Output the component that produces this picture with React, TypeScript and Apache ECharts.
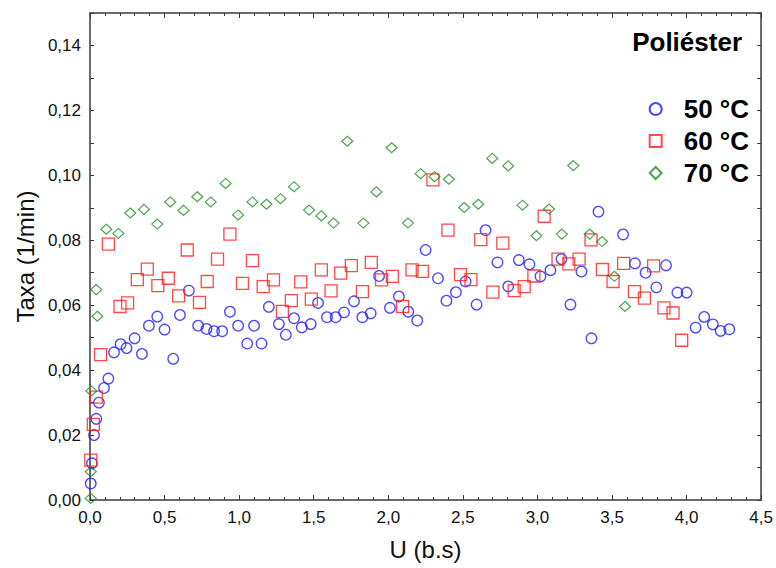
import React, { useEffect, useRef } from "react";
import * as echarts from "echarts";

// Drying rate of polyester vs. U (b.s) at three air temperatures
const u50 = [
  0.005, 0.013, 0.027, 0.042, 0.06, 0.094, 0.123, 0.161, 0.205, 0.245, 0.299, 0.348, 0.395, 0.451, 0.5,
  0.558, 0.603, 0.663, 0.725, 0.781, 0.832, 0.886, 0.938, 0.993, 1.054, 1.1, 1.15, 1.199, 1.266, 1.313,
  1.368, 1.42, 1.48, 1.529, 1.589, 1.647, 1.703, 1.77, 1.826, 1.882, 1.938, 2.011, 2.071, 2.134, 2.194,
  2.25, 2.333, 2.39, 2.453, 2.518, 2.592, 2.652, 2.732, 2.804, 2.875, 2.946, 3.02, 3.087, 3.161, 3.221,
  3.295, 3.362, 3.409, 3.574, 3.654, 3.725, 3.797, 3.862, 3.938, 4.0, 4.06, 4.118, 4.176, 4.228, 4.286,
];
const taxa50 = [
  0.0051, 0.0113, 0.02, 0.025, 0.03, 0.0345, 0.0374, 0.0455, 0.048, 0.0468, 0.0498, 0.045, 0.0537, 0.0565,
  0.0525, 0.0435, 0.057, 0.0645, 0.0537, 0.0527, 0.052, 0.052, 0.058, 0.0537, 0.0482, 0.0537, 0.0482,
  0.0595, 0.0542, 0.0509, 0.056, 0.0532, 0.0542, 0.0607, 0.0563, 0.0563, 0.0578, 0.0612, 0.0563, 0.0575,
  0.069, 0.0592, 0.0627, 0.058, 0.0553, 0.077, 0.0683, 0.0614, 0.064, 0.0673, 0.0602, 0.0831, 0.0732,
  0.0658, 0.0739, 0.0726, 0.0689, 0.0708, 0.0742, 0.0602, 0.0704, 0.0498, 0.0888, 0.0818, 0.0729, 0.07,
  0.0655, 0.0723, 0.0639, 0.0639, 0.0531, 0.0564, 0.0541, 0.0521, 0.0526,
];

const u60 = [
  0.005, 0.022, 0.042, 0.071, 0.123, 0.201, 0.252, 0.317, 0.384, 0.455, 0.525, 0.594, 0.652, 0.734, 0.786,
  0.855, 0.938, 1.022, 1.089, 1.161, 1.23, 1.29, 1.35, 1.413, 1.484, 1.551, 1.616, 1.681, 1.752, 1.826,
  1.886, 1.955, 2.027, 2.096, 2.159, 2.228, 2.299, 2.4, 2.484, 2.554, 2.62, 2.701, 2.768, 2.844, 2.911,
  2.976, 3.045, 3.138, 3.21, 3.279, 3.359, 3.435, 3.507, 3.578, 3.65, 3.717, 3.779, 3.848, 3.909, 3.967,
];
const taxa60 = [
  0.0123, 0.0233, 0.0317, 0.0448, 0.0788, 0.0596, 0.0607, 0.0679, 0.0711, 0.066, 0.0683, 0.0629, 0.077,
  0.0609, 0.0673, 0.0742, 0.0819, 0.0667, 0.0737, 0.0657, 0.0678, 0.0581, 0.0614, 0.0672, 0.0619, 0.0709,
  0.0644, 0.0699, 0.0722, 0.0642, 0.0732, 0.0678, 0.0689, 0.0596, 0.0709, 0.0704, 0.0986, 0.0831, 0.0694,
  0.0679, 0.0802, 0.064, 0.0791, 0.0645, 0.0657, 0.069, 0.0874, 0.0742, 0.0727, 0.0742, 0.0801, 0.071,
  0.0673, 0.0729, 0.0642, 0.0622, 0.0721, 0.0592, 0.0576, 0.0492,
];

const u70 = [
  0.005, 0.005, 0.009, 0.042, 0.049, 0.109, 0.19, 0.27, 0.362, 0.451, 0.538, 0.627, 0.719, 0.809, 0.909,
  0.993, 1.089, 1.183, 1.277, 1.368, 1.469, 1.551, 1.633, 1.725, 1.833, 1.92, 2.022, 2.132, 2.217, 2.31,
  2.406, 2.509, 2.603, 2.697, 2.804, 2.9, 2.993, 3.078, 3.163, 3.24, 3.35, 3.433, 3.516, 3.587,
];
const taxa70 = [
  0.0005, 0.0087, 0.0336, 0.0648, 0.0566, 0.0834, 0.0821, 0.0884, 0.0895, 0.085, 0.0918, 0.0892, 0.0934,
  0.0918, 0.0975, 0.0878, 0.0918, 0.0911, 0.0928, 0.0965, 0.0893, 0.0875, 0.0853, 0.1105, 0.0853, 0.0949,
  0.1085, 0.0853, 0.1005, 0.0996, 0.0988, 0.0901, 0.0911, 0.1052, 0.1029, 0.0908, 0.0814, 0.0896, 0.0819,
  0.103, 0.0819, 0.0796, 0.0689, 0.0596,
];

const seriesNames = ["50 °C", "60 °C", "70 °C"];
const panelTitle = "Poliéster";
const xTitle = "U (b.s)";
const yTitle = "Taxa (1/min)";

const AXIS = "#3a3a3a";
const NARROW = "'Liberation Sans Narrow', 'Liberation Sans', Arial, sans-serif";
const SANS = "'Liberation Sans', Arial, sans-serif";

const pairs = (xs: number[], ys: number[]) => xs.map((x, i) => [x, ys[i]]);
const comma = (v: number, d: number) => v.toFixed(d).replace(".", ",");

function frameAxis(extra: any) {
  return {
    type: "value",
    axisLine: { show: true, onZero: false, lineStyle: { color: AXIS, width: 1.5 } },
    axisTick: { show: true, inside: true, length: 5, lineStyle: { color: AXIS, width: 1 } },
    splitLine: { show: false },
    ...extra,
  };
}

export default function App() {
  const ref = useRef<HTMLDivElement>(null);

  useEffect(() => {
    const chart = echarts.init(ref.current!, null, { renderer: "svg" });
    const xCommon = { min: 0, max: 4.5, interval: 0.5 };
    const yCommon = { min: 0, max: 0.15, interval: 0.01 };
    const minorX = { show: true, splitNumber: 5, length: 3, lineStyle: { color: AXIS, width: 1 } };

    chart.setOption({
      animation: false,
      backgroundColor: "#ffffff",
      title: {
        text: panelTitle,
        right: 34,
        top: 29,
        padding: 0,
        textStyle: { fontFamily: SANS, fontSize: 26, fontWeight: "bold", color: "#000" },
      },
      legend: {
        orient: "vertical",
        right: 27,
        top: 96,
        padding: 0,
        itemWidth: 12,
        itemHeight: 12,
        itemGap: 6,
        data: seriesNames,
        textStyle: {
          fontFamily: SANS,
          fontSize: 26,
          fontWeight: "bold",
          color: "#000",
          lineHeight: 26,
          padding: [0, 0, 0, 17],
        },
      },
      grid: { left: 90, right: 13, top: 13, bottom: 68 },
      xAxis: [
        frameAxis({
          ...xCommon,
          position: "bottom",
          minorTick: minorX,
          axisLabel: {
            margin: 9,
            fontFamily: NARROW,
            fontSize: 17,
            color: "#111",
            formatter: (v: number) => comma(v, 1),
          },
          name: xTitle,
          nameLocation: "middle",
          nameGap: 37,
          nameTextStyle: { fontFamily: SANS, fontSize: 24, color: "#111" },
        }),
        frameAxis({
          ...xCommon,
          position: "top",
          minorTick: minorX,
          axisLabel: { show: false },
        }),
      ],
      yAxis: [
        frameAxis({
          ...yCommon,
          position: "left",
          axisTick: { show: true, inside: true, length: 4, lineStyle: { color: AXIS, width: 1 } },
          axisLabel: {
            margin: 9,
            fontFamily: NARROW,
            fontSize: 17,
            color: "#111",
            formatter: (v: number) => {
              const k = Math.round(v * 100);
              return k % 2 === 0 && k <= 14 ? comma(v, 2) : "";
            },
          },
          name: yTitle,
          nameLocation: "middle",
          nameGap: 51,
          nameTextStyle: { fontFamily: SANS, fontSize: 24, color: "#111" },
        }),
        frameAxis({
          ...yCommon,
          position: "right",
          axisTick: { show: true, inside: true, length: 4, lineStyle: { color: AXIS, width: 1 } },
          axisLabel: { show: false },
        }),
      ],
      series: [
        {
          name: seriesNames[0],
          type: "scatter",
          symbol: "circle",
          symbolSize: 10.5,
          data: pairs(u50, taxa50),
          itemStyle: { color: "rgba(255,255,255,0)", borderColor: "#1a1aff", borderWidth: 1.3 },
        },
        {
          name: seriesNames[1],
          type: "scatter",
          symbol: "rect",
          symbolSize: 12,
          data: pairs(u60, taxa60),
          itemStyle: { color: "rgba(255,255,255,0)", borderColor: "#ff1a1a", borderWidth: 1.3 },
        },
        {
          name: seriesNames[2],
          type: "scatter",
          symbol: "diamond",
          symbolSize: [11, 10],
          data: pairs(u70, taxa70),
          itemStyle: { color: "rgba(255,255,255,0)", borderColor: "#1f8f1f", borderWidth: 1.2 },
        },
      ],
    });
    return () => chart.dispose();
  }, []);

  return (
    <div
      ref={ref}
      style={{ position: "fixed", left: 0, top: 0, width: 776, height: 568, background: "#fff" }}
    />
  );
}
